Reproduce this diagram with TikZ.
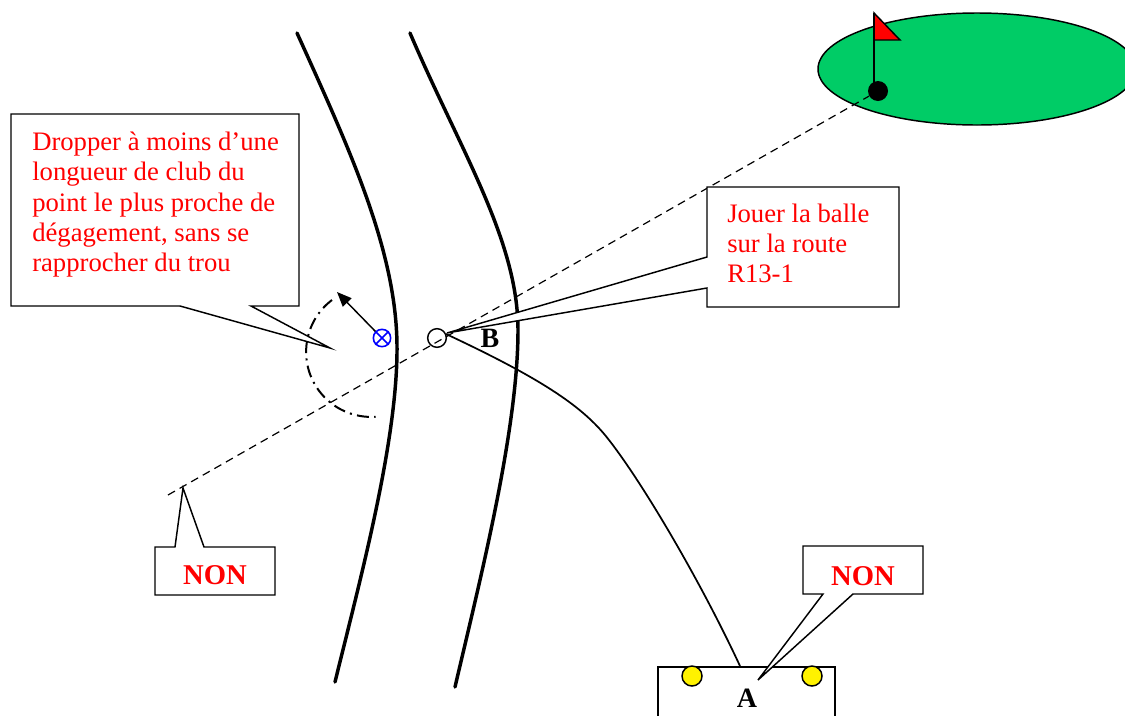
\documentclass[tikz,border=0pt]{standalone}
\usepackage{fontspec}
\setmainfont{Liberation Serif}
\usetikzlibrary{arrows.meta}
\definecolor{grn}{RGB}{0,204,102}
\begin{document}
\begin{tikzpicture}[x=0.75pt,y=-0.75pt,
  road/.style={line width=2.6pt, line cap=round},
  thinline/.style={line width=1.1pt},
  callout/.style={draw, line width=1.1pt, fill=white, line join=miter},
  redtxt/.style={text=red, font=\fontsize{20}{23}\selectfont, inner sep=0pt, anchor=base west},
  redbold/.style={text=red, font=\fontsize{21.5}{24}\selectfont\bfseries, inner sep=0pt, anchor=base},
  lbl/.style={font=\fontsize{21}{24}\selectfont\bfseries, inner sep=0pt, anchor=base},
  dashline/.style={line width=0.9pt, dash pattern=on 6pt off 4pt},
  dashdot/.style={line width=1.5pt, dash pattern=on 9pt off 4pt on 1.5pt off 4pt}]
\useasboundingbox (0,0) rectangle (1125,715);
\clip (0,0) rectangle (1125,715);

% green
\draw[fill=grn, line width=1.1pt] (977,69) ellipse [x radius=119.25pt, y radius=42pt];

% roads
\draw[road] (297,33) .. controls (350,150) and (396,250) .. (397,345) .. controls (398,440) and (360,580) .. (335,682);
\draw[road] (410,33) .. controls (460,150) and (518,240) .. (518,330) .. controls (518,430) and (480,580) .. (455,687);

% hole and flag
\node[circle, fill=black, minimum size=15pt, inner sep=0pt] (hole) at (878,91) {};
\coordinate (poletop) at (874,13);
\coordinate (flagc) at (900,40);
\coordinate (flagb) at (874,40);
\coordinate (polebot) at (874,86);
\draw[fill=red, thinline, line join=miter] (poletop) -- (flagc) -- (flagb) -- cycle;
\draw[thinline] (poletop) -- (polebot);

% dashed line
\coordinate (dstart) at (168,495);
\draw[dashline] (dstart) -- (hole);

% ball B
\node[circle, draw, thinline, minimum size=14pt, inner sep=0pt] (ball) at (437,338) {};
\coordinate (Btouch) at (446,334);

% path to A
\coordinate (Atouch) at (740,666);
\draw[line width=1.3pt] (Btouch) .. controls (540,378) and (580,405) .. (605,435) .. controls (640,478) and (700,580) .. (Atouch);

% dash-dot arc
\coordinate (arcstart) at (332,300);
\draw[dashdot] (arcstart) arc[start angle=127, end angle=274, radius=48.75pt];

% drop point
\node[circle, draw=blue, line width=1.2pt, minimum size=13pt, inner sep=0pt] (drop) at (382,338) {};
\draw[blue, line width=1.2pt] (drop.45) -- (drop.225) (drop.135) -- (drop.-45);
\coordinate (arrtip) at (337,292);
\draw[thinline, -{Triangle[length=11pt, width=9pt]}] (drop.135) -- (arrtip);

% callout Dropper
\coordinate (tipD) at (330,348);
\draw[callout] (11,114) -- (299,114) -- (299,306) -- (251,306) -- (tipD) -- (180,306) -- (11,306) -- cycle;
\node[redtxt] (d1) at (32,150) {Dropper à moins d’une};
\node[redtxt] (d2) at (32,180) {longueur de club du};
\node[redtxt] (d3) at (32,211) {point le plus proche de};
\node[redtxt] (d4) at (32,241) {dégagement, sans se};
\node[redtxt] (d5) at (32,271) {rapprocher du trou};

% callout Jouer
\coordinate (tipJ) at (447,333);
\draw[callout] (707,187) -- (899,187) -- (899,307) -- (707,307) -- (707,288) -- (tipJ) -- (707,257) -- cycle;
\node[redtxt] (j1) at (727,222) {Jouer la balle};
\node[redtxt] (j2) at (727,252) {sur la route};
\node[redtxt] (j3) at (727,282) {R13-1};

% B label
\node[lbl] (Blbl) at (490,347) {B};

% tee box A
\draw[callout] (658,667) rectangle (835,730);
\node[circle, draw, fill=yellow, thinline, minimum size=15pt, inner sep=0pt] (y1) at (692,676) {};
\node[circle, draw, fill=yellow, thinline, minimum size=15pt, inner sep=0pt] (y2) at (812,676) {};
\node[lbl] (Albl) at (747,707) {A};

% callout NON right
\coordinate (tipR) at (758,680);
\draw[callout] (803,546) -- (923,546) -- (923,594) -- (853,594) -- (tipR) -- (823,594) -- (803,594) -- cycle;
\node[redbold] (nonR) at (863,585) {NON};

% callout NON left
\coordinate (tipL) at (183,488);
\draw[callout] (155,547) -- (175,547) -- (tipL) -- (204,547) -- (275,547) -- (275,595) -- (155,595) -- cycle;
\node[redbold] (nonL) at (215,584) {NON};
\end{tikzpicture}
\end{document}
